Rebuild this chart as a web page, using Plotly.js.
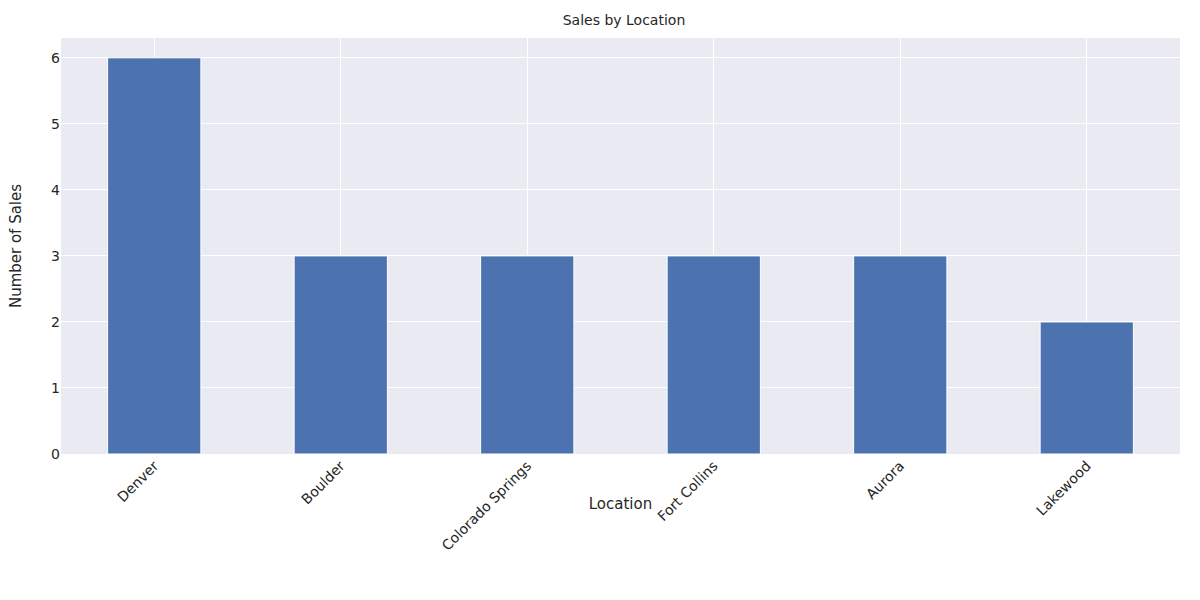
<!DOCTYPE html>
<html><head><meta charset="utf-8">
<script src="https://cdn.plot.ly/plotly-3.0.1.min.js"></script>
<style>body{margin:0}</style></head>
<body><div id="chart" style="width:1200px;height:600px"></div>
<script>
const locations=["Denver","Boulder","Colorado Springs","Fort Collins","Aurora","Lakewood"];
const sales=[6,3,3,3,3,2];

const trace={
    x:locations,
    y:sales,
    type:"bar",
    width:0.5,
    marker:{color:"#4C72B0",line:{color:"#ffffff",width:1}}
};
const layout={
    width:1200,height:600,
    paper_bgcolor:"#ffffff",
    plot_bgcolor:"#EAEAF2",
    font:{family:"DejaVu Sans",size:14,color:"#262626"},
    title:{text:"Sales by Location",x:0.52,y:0.975,font:{size:14}},
    margin:{l:61,r:20,t:38,b:146},
    bargap:0.5,
    xaxis:{
        title:{text:"Location",font:{size:15}},
        tickangle:-45,
        range:[-0.5,5.5],
        showgrid:true,gridcolor:"#ffffff",gridwidth:1,
        ticks:"",zeroline:false
    },
    yaxis:{
        title:{text:"Number of Sales",font:{size:15}},
        range:[0,6.3],
        dtick:1,
        showgrid:true,gridcolor:"#ffffff",gridwidth:1,
        ticks:"",zeroline:false
    },
    showlegend:false
};
Plotly.newPlot("chart",[trace],layout,{displayModeBar:false});
</script></body></html>
